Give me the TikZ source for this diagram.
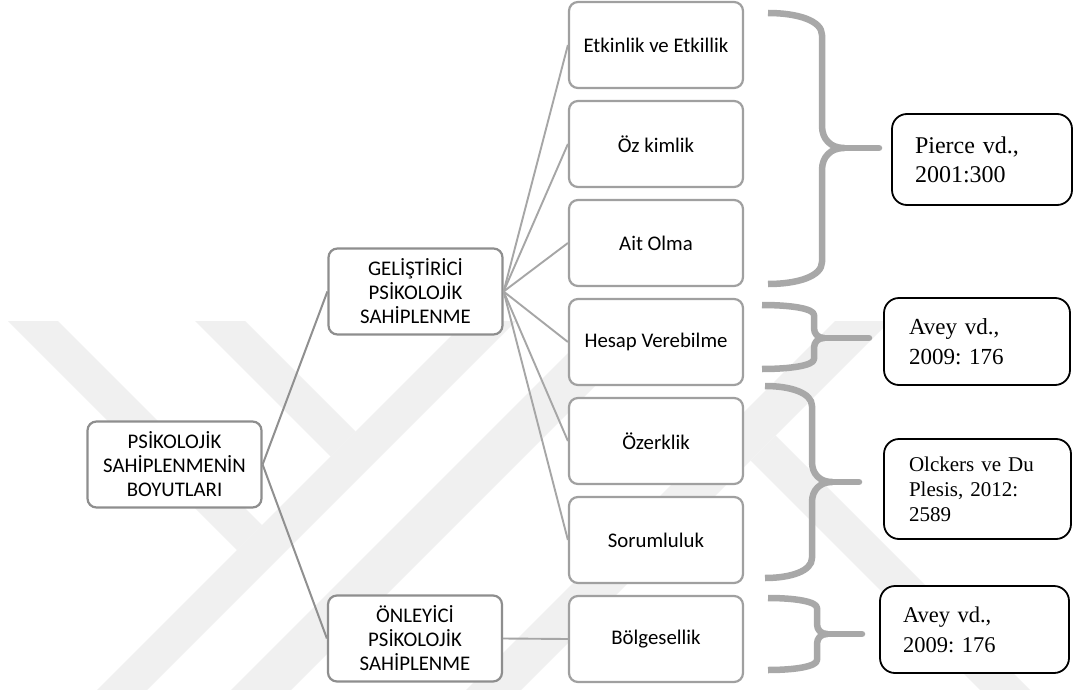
\documentclass[tikz,border=0pt]{standalone}
\usepackage{fontspec}
\setmainfont{Carlito}
\newfontfamily\tnr{Liberation Serif}
\definecolor{boxgray}{HTML}{A0A0A0}
\definecolor{rootgray}{HTML}{8E8E8E}
\definecolor{linegray}{HTML}{A6A6A6}
\definecolor{rootline}{HTML}{909090}
\definecolor{bracegray}{HTML}{A8A8A8}
\definecolor{wm}{HTML}{F0F0F0}
\newcommand{\mybrace}[7]{%
  \draw[bracestyle] (#1,#4) .. controls ({#2-0.45*(#2-#1)},#4) and (#2,{#4+0.35*#7}) .. (#2,{#4+#7})
    -- (#2,{#6-#7}) .. controls (#2,{#6-0.4*#7}) and ({#2+0.4*#7},#6) .. ({#2+#7},#6)
    .. controls ({#2+0.4*#7},#6) and (#2,{#6+0.4*#7}) .. (#2,{#6+#7})
    -- (#2,{#5-#7}) .. controls (#2,{#5-0.35*#7}) and ({#2-0.45*(#2-#1)},#5) .. (#1,#5);
  \draw[bracestyle, line cap=round] ({#2+#7},#6) -- (#3,#6);
}
\frenchspacing
\begin{document}
\begin{tikzpicture}[x=1pt,y=-1pt,
  leaf/.style={draw=boxgray, fill=white, line width=2.2pt, rounded corners=9pt,
    minimum width=174pt, minimum height=86pt, inner sep=0pt, align=center,
    font=\fontsize{20.8}{24}\selectfont},
  mid/.style={leaf, draw=rootgray},
  refbox/.style={draw=black, fill=white, line width=1.8pt, rounded corners=15pt,
    inner ysep=0pt, align=left},
  conn1/.style={draw=rootline, line width=2pt},
  conn2/.style={draw=linegray, line width=1.9pt},
  bracestyle/.style={draw=bracegray, line width=6.5pt, line join=round}]
\fill[white] (0,0) rectangle (1073,690);
\useasboundingbox (0,0) rectangle (1073,690);

% watermark
\begin{scope}
\clip (0,321) rectangle (1073,690);
\fill[wm] (466,321) -- (516,321) -- (147,690) -- (97,690) -- cycle;
\fill[wm] (600,321) -- (660,321) -- (291,690) -- (231,690) -- cycle;
\fill[wm] (835,321) -- (890,321) -- (521,690) -- (466,690) -- cycle;
\fill[wm] (8,321) -- (58,321) -- (262,525) -- (237,550) -- cycle;
\fill[wm] (195,321) -- (245,321) -- (355.5,431.5) -- (330.5,456.5) -- cycle;
\fill[wm] (775.5,435.5) -- (1030,690) -- (980,690) -- (750.5,460.5) -- cycle;
\end{scope}

% nodes
\node[mid] (root) at (174.5,464.5) {PSİKOLOJİK\\SAHİPLENMENİN\\BOYUTLARI};
\node[mid] (gel) at (415.5,291.5) {GELİŞTİRİCİ\\PSİKOLOJİK\\SAHİPLENME};
\node[mid] (onl) at (415,638.5) {ÖNLEYİCİ\\PSİKOLOJİK\\SAHİPLENME};

\node[leaf] (l1) at (656,45) {Etkinlik ve Etkillik};
\node[leaf] (l2) at (656,144) {Öz kimlik};
\node[leaf] (l3) at (656,243) {Ait Olma};
\node[leaf] (l4) at (656,342) {Hesap Verebilme};
\node[leaf] (l5) at (656,441) {Özerklik};
\node[leaf] (l6) at (656,540) {Sorumluluk};
\node[leaf] (l7) at (656,639) {Bölgesellik};

\node[refbox, minimum width=180pt, minimum height=91pt, inner xsep=23pt, text width=134pt,
  font=\tnr\fontsize{24}{29}\selectfont] (r1) at (982,159.5) {Pierce vd.,\\2001:300};
\node[refbox, minimum width=186pt, minimum height=87pt, inner xsep=25pt, text width=136pt,
  font=\tnr\fontsize{23}{29.5}\selectfont] (r2) at (977,341.5) {Avey vd.,\\2009: 176};
\node[refbox, minimum width=187pt, minimum height=100pt, inner xsep=25pt, text width=137pt,
  font=\tnr\fontsize{21}{25}\selectfont] (r3) at (977.5,489) {Olckers ve Du\\Plesis, 2012:\\2589};
\node[refbox, minimum width=189pt, minimum height=87pt, inner xsep=23pt, text width=143pt,
  font=\tnr\fontsize{22.5}{30}\selectfont] (r4) at (974.5,629.5) {Avey vd.,\\2009: 176};

% connectors
\draw[conn1] (root.east) -- (gel.west);
\draw[conn1] (root.east) -- (onl.west);
\foreach \n in {l1,l2,l3,l4,l5,l6}{\draw[conn2] (gel.east) -- (\n.west);}
\draw[conn2] (onl.east) -- (l7.west);

% braces
\mybrace{768}{822}{879}{13}{284}{148}{22}
\mybrace{762}{814}{869}{305}{369}{338}{10}
\mybrace{765}{812}{859}{386}{578}{482}{20}
\mybrace{768}{817}{862}{598}{670}{634}{10}
\end{tikzpicture}
\end{document}
